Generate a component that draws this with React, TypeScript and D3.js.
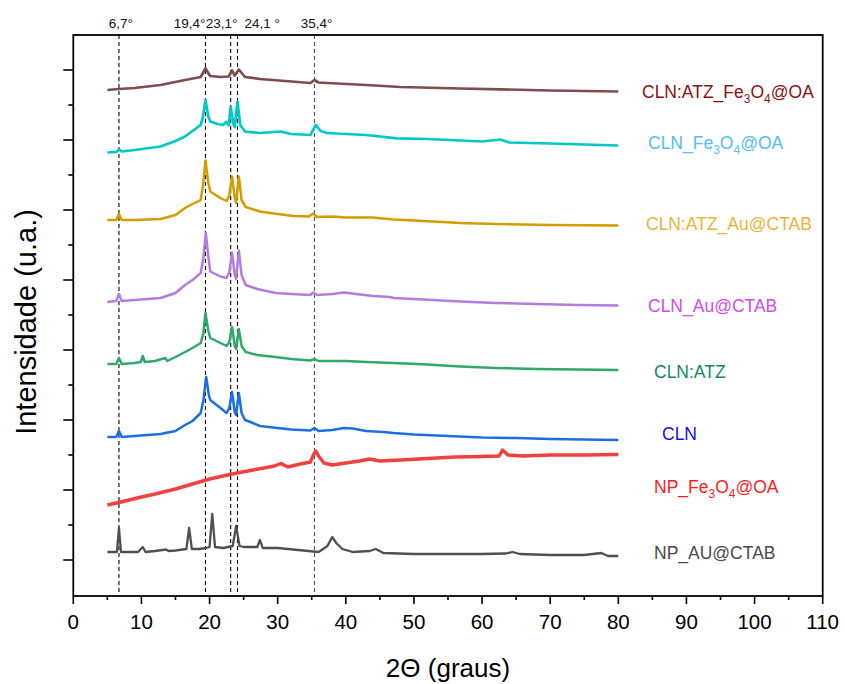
import * as d3 from "d3";

// 2θ (degrees) vs intensity (arbitrary units, offset per pattern)
const npAuCtab: [number, number][] = [
  [5, 8], [6, 8], [6.4, 8], [6.7, 32], [7.0, 8], [8, 8], [9.5, 8], [10.2, 13], [10.6, 8],
  [12, 9], [13.6, 10.5], [14, 9], [15, 9.5], [16.6, 11], [17.0, 32], [17.4, 11], [18.5, 11],
  [19.5, 12], [20.0, 13], [20.4, 46], [20.8, 13], [22, 12], [23.4, 14], [23.9, 34], [24.4, 14],
  [25, 13], [27, 13], [27.4, 20], [27.8, 12], [30, 12], [33, 10], [36, 8], [37.3, 14],
  [38.0, 23], [38.6, 17], [39.5, 11], [41, 8], [43.5, 9], [44.4, 11], [45.5, 7], [50, 6],
  [55, 6], [60, 6], [63.5, 6.5], [64.5, 8], [65.5, 6], [70, 5], [75, 5], [77.5, 7], [78.5, 4], [80, 4],
];

const npFe3o4: [number, number][] = [
  [5, 55], [7, 58], [10, 63], [12, 66], [15, 71], [17.5, 76], [20, 81], [22, 84], [24, 87],
  [26, 89.5], [28, 92], [29.5, 94], [30.5, 96.5], [31.5, 93], [33, 95.5], [34.8, 98], [35.3, 106],
  [35.6, 109], [36.0, 104], [36.8, 97], [38, 95], [40, 97], [42, 99], [43.5, 101], [45, 99],
  [48, 100], [52, 101.5], [56, 103], [60, 103.5], [62.5, 104], [63, 110], [63.8, 105], [66, 104],
  [70, 105], [75, 105], [80, 105.5],
];

const cln: [number, number][] = [
  [5, 123], [6.3, 123], [6.7, 129], [7.1, 123], [9, 124], [12.8, 126], [15, 129], [16.4, 135],
  [17.5, 139], [18.7, 147], [19.1, 160], [19.5, 183], [19.9, 165], [20.1, 160], [21.6, 152],
  [22.5, 147], [22.9, 152], [23.3, 168], [23.7, 148], [23.9, 145], [24.3, 167], [24.7, 147],
  [25.2, 140], [26, 138], [27.4, 134], [30, 132], [32, 130.5], [34.8, 129.5], [35.4, 132],
  [36, 129], [38, 130], [39.7, 132], [41, 131.5], [43, 129], [45.5, 128], [47, 127], [50, 125.5],
  [55, 124], [60, 122.5], [65, 122], [70, 121], [75, 120.5], [80, 120],
];

const clnAtz: [number, number][] = [
  [5, 196], [6.3, 196], [6.7, 202], [7.1, 196], [9, 197], [9.9, 198], [10.2, 204], [10.5, 198],
  [12, 199], [13.5, 202], [13.8, 199], [15, 203], [16.4, 208], [17.5, 212], [18.7, 217],
  [19.1, 227], [19.4, 247], [19.8, 230], [20.1, 222], [21.6, 217], [22.5, 214], [22.9, 218],
  [23.3, 233], [23.7, 214], [23.9, 211], [24.3, 231], [24.7, 214], [25.3, 208], [27, 205],
  [29.7, 203], [32, 201], [34.8, 199.5], [35.4, 201], [36, 199], [40, 199], [43, 198], [47, 197],
  [52, 195.5], [56.8, 193.5], [62, 192], [68, 191], [74, 190.5], [80, 190],
];

const clnAuCtab: [number, number][] = [
  [5, 258], [6.3, 259], [6.7, 266], [7.1, 259], [9, 260], [12.8, 262], [15, 267], [16.4, 275],
  [17.5, 280], [18.7, 287], [19.1, 302], [19.45, 327], [19.8, 305], [20.1, 288.5], [21.6, 283.5],
  [22.5, 282], [22.9, 288], [23.3, 307.5], [23.7, 285], [23.9, 281], [24.3, 309.5], [24.7, 285],
  [25.3, 275], [27, 271], [29.7, 267], [32, 266], [34.8, 265], [35.2, 267.5], [35.8, 265],
  [38, 266], [39.7, 267.5], [41.5, 266], [44, 264], [46.5, 263], [47, 262], [50, 261],
  [56.8, 258.5], [62, 257], [68, 256], [74, 255], [80, 254.5],
];

const clnAtzAuCtab: [number, number][] = [
  [5, 340], [6.3, 340], [6.7, 346], [7.1, 340], [9, 340], [12.8, 341], [15, 345], [16.4, 352],
  [17.2, 355], [18.7, 360], [19.05, 375], [19.4, 399.5], [19.8, 378], [20.1, 368.5], [21.6, 362],
  [22.5, 359], [22.9, 365], [23.3, 383.5], [23.7, 362], [23.9, 357], [24.3, 383.5], [24.7, 360],
  [25.3, 353], [27.4, 348.5], [30, 346], [32.3, 344], [34.6, 343.5], [35.2, 346.5], [35.8, 343],
  [38, 343.5], [40, 342.5], [43.9, 342.5], [47, 340.5], [50, 339.5], [56.8, 337], [62, 336],
  [70, 335], [80, 334.5],
];

const clnFe3o4: [number, number][] = [
  [5, 407.5], [6.3, 408], [6.7, 410.5], [7.1, 408.5], [9, 410], [12.8, 413.5], [15, 419],
  [16.4, 423.5], [17.5, 429], [18.7, 435], [19.0, 442], [19.4, 460], [19.8, 444], [20.1, 438.5],
  [21.2, 436], [22.0, 435], [22.4, 438], [22.8, 435], [23.1, 453], [23.5, 436], [23.7, 433],
  [24.1, 458.5], [24.5, 435], [25.2, 428.5], [27.4, 427], [30.4, 428.5], [32, 426], [34.8, 425],
  [35.6, 435], [36.3, 429], [37.3, 427], [40, 426], [43, 425], [47.5, 421.7], [52, 421],
  [56.8, 419.5], [60, 418.5], [62.7, 420.5], [64, 417.5], [70, 416.5], [75, 415.5], [80, 414.5],
];

const clnAtzFe3o4: [number, number][] = [
  [5, 470], [6.7, 471], [9, 472], [12.8, 475], [16.4, 480], [18.7, 483], [19.4, 491.5],
  [19.9, 486], [20.1, 484], [21.6, 483], [22.8, 483.5], [23.3, 489.5], [23.7, 484.5], [24.3, 490.5],
  [25.2, 483], [27.4, 481], [32, 478.5], [34.8, 477], [35.4, 480], [36, 477.5], [37.3, 477],
  [43, 475], [48, 473], [56.8, 471.5], [62.7, 470.7], [70, 469.5], [80, 468.5],
];

const peakMarks = [6.7, 19.4, 23.1, 24.1, 35.4];
const peakLabels = ["6,7°", "19,4°", "23,1°", "24,1 °", "35,4°"];

const xTicks = d3.range(0, 111, 10);
const xMinor = d3.range(5, 110, 10);
const yMajor = d3.range(0, 491, 70);
const yMinor = d3.range(35, 456, 70);

type Part = { t: string; sub?: boolean };

const series = [
  { data: npAuCtab, stroke: "#505050", label: [{ t: "NP_AU@CTAB" }] as Part[], fill: "#4a4a4a", lx: 654, ly: 553, w: 2.3 },
  { data: npFe3o4, stroke: "#f04040", label: [{ t: "NP_Fe" }, { t: "3", sub: true }, { t: "O" }, { t: "4", sub: true }, { t: "@OA" }], fill: "#ff1a1a", lx: 654, ly: 487, w: 3.4 },
  { data: cln, stroke: "#1b6fe0", label: [{ t: "CLN" }], fill: "#1010ee", lx: 662, ly: 434, w: 2.5 },
  { data: clnAtz, stroke: "#30a86c", label: [{ t: "CLN:ATZ" }], fill: "#138a5a", lx: 654, ly: 372, w: 2.5 },
  { data: clnAuCtab, stroke: "#b47ce0", label: [{ t: "CLN_Au@CTAB" }], fill: "#d04cf0", lx: 648, ly: 306, w: 2.5 },
  { data: clnAtzAuCtab, stroke: "#d39c00", label: [{ t: "CLN:ATZ_Au@CTAB" }], fill: "#eab33c", lx: 646, ly: 224, w: 2.5 },
  { data: clnFe3o4, stroke: "#00c8c8", label: [{ t: "CLN_Fe" }, { t: "3", sub: true }, { t: "O" }, { t: "4", sub: true }, { t: "@OA" }], fill: "#4fc0f5", lx: 648, ly: 143, w: 2.7 },
  { data: clnAtzFe3o4, stroke: "#7d4c4c", label: [{ t: "CLN:ATZ_Fe" }, { t: "3", sub: true }, { t: "O" }, { t: "4", sub: true }, { t: "@OA" }], fill: "#8b1212", lx: 642, ly: 92, w: 2.7 },
];

export default function App() {
  const left = 73.3, right = 822.7, top = 35, bottom = 596;
  const x = d3.scaleLinear().domain([0, 110]).range([left, right]);
  const y = d3.scaleLinear().domain([-36, 525]).range([bottom, top]);
  const line = d3.line<[number, number]>().x((d) => x(d[0])).y((d) => y(d[1]));
  const font = "'Liberation Sans', Arial, sans-serif";

  return (
    <svg width={845} height={684} style={{ position: "absolute", left: 0, top: 0, background: "#fff" }} fontFamily={font}>
      {/* dashed peak markers */}
      {peakMarks.map((p, i) => (
        <line key={"pm" + i} x1={x(p)} x2={x(p)} y1={top} y2={bottom}
          stroke={p === 35.4 ? "#555" : "#000"} strokeWidth={1.1} strokeDasharray="4,3" />
      ))}
      {peakLabels.map((s, i) => {
        const px = x(peakMarks[i]);
        const anchor = i === 1 ? "end" : i === 3 ? "start" : "middle";
        const dx = i === 1 ? 0 : i === 2 ? -9 : i === 3 ? 7 : 2;
        return (
          <text key={"pl" + i} x={px + dx} y={28} fontSize={13.5} textAnchor={anchor} fill="#111">{s}</text>
        );
      })}

      {/* patterns */}
      {series.map((s, i) => (
        <path key={"s" + i} d={line(s.data) ?? ""} fill="none" stroke={s.stroke} strokeWidth={s.w} strokeLinejoin="round" />
      ))}

      {/* labels */}
      {series.map((s, i) => (
        <text key={"l" + i} x={s.lx} y={s.ly + 6} fontSize={17.5} fill={s.fill}>
          {s.label.map((p, j) =>
            p.sub ? (
              <tspan key={j} fontSize={12} dy={5}>{p.t}</tspan>
            ) : j > 0 && s.label[j - 1].sub ? (
              <tspan key={j} dy={-5}>{p.t}</tspan>
            ) : (
              <tspan key={j}>{p.t}</tspan>
            )
          )}
        </text>
      ))}

      {/* frame */}
      <rect x={left} y={top} width={right - left} height={bottom - top} fill="none" stroke="#000" strokeWidth={1.8} />

      {/* x ticks */}
      {xTicks.map((t) => (
        <g key={"xt" + t}>
          <line x1={x(t)} x2={x(t)} y1={bottom} y2={bottom + 8} stroke="#000" strokeWidth={1.6} />
          <text x={x(t)} y={629} fontSize={20.5} textAnchor="middle" fill="#000">{t}</text>
        </g>
      ))}
      {xMinor.map((t) => (
        <line key={"xm" + t} x1={x(t)} x2={x(t)} y1={bottom} y2={bottom + 4} stroke="#000" strokeWidth={1.6} />
      ))}

      {/* y ticks */}
      {yMajor.map((t) => (
        <line key={"ym" + t} x1={left - 10} x2={left} y1={y(t)} y2={y(t)} stroke="#000" strokeWidth={1.6} />
      ))}
      {yMinor.map((t) => (
        <line key={"yn" + t} x1={left - 5} x2={left} y1={y(t)} y2={y(t)} stroke="#000" strokeWidth={1.6} />
      ))}

      {/* axis titles */}
      <text x={448} y={677} fontSize={26} textAnchor="middle" fill="#000">2Θ (graus)</text>
      <text transform="translate(36,322) rotate(-90)" fontSize={29} textAnchor="middle" fill="#000">Intensidade (u.a.)</text>
    </svg>
  );
}
